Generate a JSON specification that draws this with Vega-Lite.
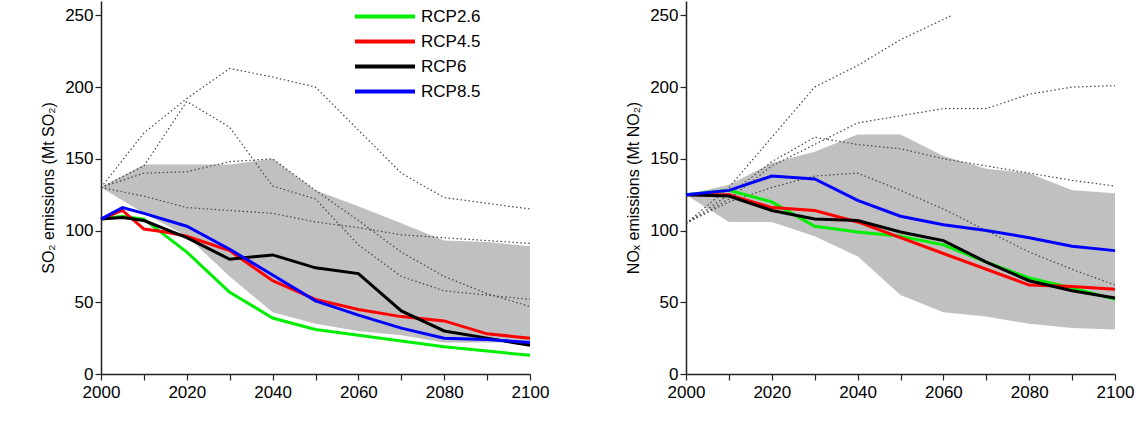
{
"$schema":"https://vega.github.io/schema/vega-lite/v6.json",
"padding":{"left":40,"top":1,"right":20,"bottom":0},
"background":"white",
"config":{"view":{"stroke":null},"font":"Liberation Sans",
"axis":{"grid":false,"labelFontSize":17,"titleFontSize":16,"titleFontWeight":"normal","domainColor":"#222","tickColor":"#222","labelColor":"#000","titleColor":"#000","tickSize":6,"domainWidth":1.5,"tickWidth":1.2,"labelFlush":false}},
"datasets":{
"lines":[
{"p":"L","s":"RCP2.6","y":2000,"v":108},{"p":"L","s":"RCP2.6","y":2005,"v":110},{"p":"L","s":"RCP2.6","y":2010,"v":108},{"p":"L","s":"RCP2.6","y":2020,"v":85},{"p":"L","s":"RCP2.6","y":2030,"v":57},{"p":"L","s":"RCP2.6","y":2040,"v":39},{"p":"L","s":"RCP2.6","y":2050,"v":31},{"p":"L","s":"RCP2.6","y":2060,"v":27},{"p":"L","s":"RCP2.6","y":2070,"v":23},{"p":"L","s":"RCP2.6","y":2080,"v":19},{"p":"L","s":"RCP2.6","y":2090,"v":16},{"p":"L","s":"RCP2.6","y":2100,"v":13},
{"p":"L","s":"RCP4.5","y":2000,"v":108},{"p":"L","s":"RCP4.5","y":2005,"v":114},{"p":"L","s":"RCP4.5","y":2010,"v":101},{"p":"L","s":"RCP4.5","y":2015,"v":99},{"p":"L","s":"RCP4.5","y":2020,"v":96},{"p":"L","s":"RCP4.5","y":2030,"v":86},{"p":"L","s":"RCP4.5","y":2040,"v":65},{"p":"L","s":"RCP4.5","y":2050,"v":52},{"p":"L","s":"RCP4.5","y":2060,"v":45},{"p":"L","s":"RCP4.5","y":2070,"v":40},{"p":"L","s":"RCP4.5","y":2080,"v":37},{"p":"L","s":"RCP4.5","y":2090,"v":28},{"p":"L","s":"RCP4.5","y":2100,"v":25},
{"p":"L","s":"RCP6","y":2000,"v":108},{"p":"L","s":"RCP6","y":2005,"v":109},{"p":"L","s":"RCP6","y":2010,"v":107},{"p":"L","s":"RCP6","y":2020,"v":95},{"p":"L","s":"RCP6","y":2030,"v":80},{"p":"L","s":"RCP6","y":2040,"v":83},{"p":"L","s":"RCP6","y":2050,"v":74},{"p":"L","s":"RCP6","y":2060,"v":70},{"p":"L","s":"RCP6","y":2070,"v":44},{"p":"L","s":"RCP6","y":2080,"v":30},{"p":"L","s":"RCP6","y":2090,"v":25},{"p":"L","s":"RCP6","y":2100,"v":20},
{"p":"L","s":"RCP8.5","y":2000,"v":108},{"p":"L","s":"RCP8.5","y":2005,"v":116},{"p":"L","s":"RCP8.5","y":2010,"v":112},{"p":"L","s":"RCP8.5","y":2020,"v":103},{"p":"L","s":"RCP8.5","y":2030,"v":87},{"p":"L","s":"RCP8.5","y":2040,"v":69},{"p":"L","s":"RCP8.5","y":2050,"v":51},{"p":"L","s":"RCP8.5","y":2060,"v":41},{"p":"L","s":"RCP8.5","y":2070,"v":32},{"p":"L","s":"RCP8.5","y":2080,"v":25},{"p":"L","s":"RCP8.5","y":2090,"v":24},{"p":"L","s":"RCP8.5","y":2100,"v":22},
{"p":"R","s":"RCP2.6","y":2000,"v":125},{"p":"R","s":"RCP2.6","y":2010,"v":128},{"p":"R","s":"RCP2.6","y":2020,"v":120},{"p":"R","s":"RCP2.6","y":2030,"v":103},{"p":"R","s":"RCP2.6","y":2040,"v":99},{"p":"R","s":"RCP2.6","y":2050,"v":96},{"p":"R","s":"RCP2.6","y":2060,"v":90},{"p":"R","s":"RCP2.6","y":2070,"v":78},{"p":"R","s":"RCP2.6","y":2080,"v":67},{"p":"R","s":"RCP2.6","y":2090,"v":60},{"p":"R","s":"RCP2.6","y":2100,"v":52},
{"p":"R","s":"RCP4.5","y":2000,"v":125},{"p":"R","s":"RCP4.5","y":2010,"v":125},{"p":"R","s":"RCP4.5","y":2020,"v":116},{"p":"R","s":"RCP4.5","y":2030,"v":114},{"p":"R","s":"RCP4.5","y":2040,"v":106},{"p":"R","s":"RCP4.5","y":2050,"v":95},{"p":"R","s":"RCP4.5","y":2060,"v":84},{"p":"R","s":"RCP4.5","y":2070,"v":73},{"p":"R","s":"RCP4.5","y":2080,"v":62},{"p":"R","s":"RCP4.5","y":2090,"v":61},{"p":"R","s":"RCP4.5","y":2100,"v":59},
{"p":"R","s":"RCP6","y":2000,"v":125},{"p":"R","s":"RCP6","y":2010,"v":124},{"p":"R","s":"RCP6","y":2020,"v":114},{"p":"R","s":"RCP6","y":2030,"v":108},{"p":"R","s":"RCP6","y":2040,"v":107},{"p":"R","s":"RCP6","y":2050,"v":99},{"p":"R","s":"RCP6","y":2060,"v":93},{"p":"R","s":"RCP6","y":2070,"v":78},{"p":"R","s":"RCP6","y":2080,"v":65},{"p":"R","s":"RCP6","y":2090,"v":58},{"p":"R","s":"RCP6","y":2100,"v":53},
{"p":"R","s":"RCP8.5","y":2000,"v":125},{"p":"R","s":"RCP8.5","y":2010,"v":128},{"p":"R","s":"RCP8.5","y":2020,"v":138},{"p":"R","s":"RCP8.5","y":2030,"v":136},{"p":"R","s":"RCP8.5","y":2040,"v":121},{"p":"R","s":"RCP8.5","y":2050,"v":110},{"p":"R","s":"RCP8.5","y":2060,"v":104},{"p":"R","s":"RCP8.5","y":2070,"v":100},{"p":"R","s":"RCP8.5","y":2080,"v":95},{"p":"R","s":"RCP8.5","y":2090,"v":89},{"p":"R","s":"RCP8.5","y":2100,"v":86}
],
"band":[
{"p":"L","y":2000,"lo":130,"hi":130},{"p":"L","y":2010,"lo":112,"hi":146},{"p":"L","y":2020,"lo":96,"hi":146},{"p":"L","y":2030,"lo":68,"hi":146},{"p":"L","y":2040,"lo":43,"hi":150},{"p":"L","y":2050,"lo":35,"hi":128},{"p":"L","y":2060,"lo":30,"hi":117},{"p":"L","y":2070,"lo":27,"hi":105},{"p":"L","y":2080,"lo":22,"hi":93},{"p":"L","y":2090,"lo":22,"hi":92},{"p":"L","y":2100,"lo":22,"hi":89},
{"p":"R","y":2000,"lo":125,"hi":125},{"p":"R","y":2010,"lo":106,"hi":132},{"p":"R","y":2020,"lo":106,"hi":147},{"p":"R","y":2030,"lo":96,"hi":155},{"p":"R","y":2040,"lo":82,"hi":167},{"p":"R","y":2050,"lo":55,"hi":167},{"p":"R","y":2060,"lo":43,"hi":152},{"p":"R","y":2070,"lo":40,"hi":143},{"p":"R","y":2080,"lo":35,"hi":140},{"p":"R","y":2090,"lo":32,"hi":128},{"p":"R","y":2100,"lo":31,"hi":126}
],
"sres":[
{"p":"L","s":"A","y":2000,"v":130},{"p":"L","s":"A","y":2010,"v":168},{"p":"L","s":"A","y":2020,"v":192},{"p":"L","s":"A","y":2030,"v":213},{"p":"L","s":"A","y":2040,"v":207},{"p":"L","s":"A","y":2050,"v":200},{"p":"L","s":"A","y":2060,"v":170},{"p":"L","s":"A","y":2070,"v":140},{"p":"L","s":"A","y":2080,"v":123},{"p":"L","s":"A","y":2090,"v":119},{"p":"L","s":"A","y":2100,"v":115},
{"p":"L","s":"B","y":2000,"v":130},{"p":"L","s":"B","y":2010,"v":145},{"p":"L","s":"B","y":2020,"v":190},{"p":"L","s":"B","y":2030,"v":172},{"p":"L","s":"B","y":2040,"v":131},{"p":"L","s":"B","y":2050,"v":122},{"p":"L","s":"B","y":2060,"v":90},{"p":"L","s":"B","y":2070,"v":68},{"p":"L","s":"B","y":2080,"v":58},{"p":"L","s":"B","y":2090,"v":55},{"p":"L","s":"B","y":2100,"v":52},
{"p":"L","s":"C","y":2000,"v":130},{"p":"L","s":"C","y":2010,"v":140},{"p":"L","s":"C","y":2020,"v":141},{"p":"L","s":"C","y":2030,"v":148},{"p":"L","s":"C","y":2040,"v":150},{"p":"L","s":"C","y":2050,"v":128},{"p":"L","s":"C","y":2060,"v":107},{"p":"L","s":"C","y":2070,"v":85},{"p":"L","s":"C","y":2080,"v":68},{"p":"L","s":"C","y":2090,"v":56},{"p":"L","s":"C","y":2100,"v":47},
{"p":"L","s":"D","y":2000,"v":130},{"p":"L","s":"D","y":2010,"v":124},{"p":"L","s":"D","y":2020,"v":116},{"p":"L","s":"D","y":2030,"v":114},{"p":"L","s":"D","y":2040,"v":112},{"p":"L","s":"D","y":2050,"v":106},{"p":"L","s":"D","y":2060,"v":102},{"p":"L","s":"D","y":2070,"v":97},{"p":"L","s":"D","y":2080,"v":95},{"p":"L","s":"D","y":2090,"v":93},{"p":"L","s":"D","y":2100,"v":91},
{"p":"R","s":"A","y":2000,"v":105},{"p":"R","s":"A","y":2010,"v":130},{"p":"R","s":"A","y":2020,"v":165},{"p":"R","s":"A","y":2030,"v":200},{"p":"R","s":"A","y":2040,"v":215},{"p":"R","s":"A","y":2050,"v":233},{"p":"R","s":"A","y":2062,"v":250},
{"p":"R","s":"B","y":2000,"v":105},{"p":"R","s":"B","y":2010,"v":125},{"p":"R","s":"B","y":2020,"v":148},{"p":"R","s":"B","y":2030,"v":165},{"p":"R","s":"B","y":2040,"v":160},{"p":"R","s":"B","y":2050,"v":157},{"p":"R","s":"B","y":2060,"v":150},{"p":"R","s":"B","y":2070,"v":145},{"p":"R","s":"B","y":2080,"v":140},{"p":"R","s":"B","y":2090,"v":135},{"p":"R","s":"B","y":2100,"v":131},
{"p":"R","s":"C","y":2000,"v":105},{"p":"R","s":"C","y":2010,"v":122},{"p":"R","s":"C","y":2020,"v":145},{"p":"R","s":"C","y":2030,"v":160},{"p":"R","s":"C","y":2040,"v":175},{"p":"R","s":"C","y":2050,"v":180},{"p":"R","s":"C","y":2060,"v":185},{"p":"R","s":"C","y":2070,"v":185},{"p":"R","s":"C","y":2080,"v":195},{"p":"R","s":"C","y":2090,"v":200},{"p":"R","s":"C","y":2100,"v":201},
{"p":"R","s":"D","y":2000,"v":105},{"p":"R","s":"D","y":2010,"v":120},{"p":"R","s":"D","y":2020,"v":130},{"p":"R","s":"D","y":2030,"v":138},{"p":"R","s":"D","y":2040,"v":140},{"p":"R","s":"D","y":2050,"v":128},{"p":"R","s":"D","y":2060,"v":115},{"p":"R","s":"D","y":2070,"v":100},{"p":"R","s":"D","y":2080,"v":85},{"p":"R","s":"D","y":2090,"v":73},{"p":"R","s":"D","y":2100,"v":62}
]},
"spacing":76,
"hconcat":[
{"width":429,"height":373,
"layer":[
{"data":{"name":"band"},"transform":[{"filter":"datum.p=='L'"}],"mark":{"type":"area","color":"#c0c0c0"},
"encoding":{"x":{"field":"y","type":"quantitative","scale":{"domain":[2000,2100]},"axis":{"title":null,"values":[2000,2010,2020,2030,2040,2050,2060,2070,2080,2090,2100],"labelExpr":"datum.value%20==0?datum.value:''","format":"d","labelPadding":4}},
"y":{"field":"lo","type":"quantitative","scale":{"domain":[0,250]},"axis":{"title":"SO₂ emissions (Mt SO₂)","values":[0,25,50,75,100,125,150,175,200,225,250],"labelExpr":"datum.value%50==0?datum.value:''","titlePadding":8}},"y2":{"field":"hi"}}},
{"data":{"name":"sres"},"transform":[{"filter":"datum.p=='L'"}],"mark":{"type":"line","color":"#444","strokeWidth":1.2,"strokeDash":[1.5,2.5]},
"encoding":{"x":{"field":"y","type":"quantitative"},"y":{"field":"v","type":"quantitative"},"detail":{"field":"s"}}},
{"data":{"name":"lines"},"transform":[{"filter":"datum.p=='L'"}],"mark":{"type":"line","strokeWidth":3},
"encoding":{"x":{"field":"y","type":"quantitative"},"y":{"field":"v","type":"quantitative"},
"color":{"field":"s","type":"nominal","scale":{"domain":["RCP2.6","RCP4.5","RCP6","RCP8.5"],"range":["#00ee00","#ff0000","#000000","#0000ff"]},
"legend":{"title":null,"orient":"none","legendX":252,"legendY":3,"symbolType":"stroke","symbolStrokeWidth":4,"symbolSize":3600,"labelFontSize":17,"rowPadding":0,"clipHeight":25,"labelOffset":4}}}}
]},
{"width":429,"height":373,
"layer":[
{"data":{"name":"band"},"transform":[{"filter":"datum.p=='R'"}],"mark":{"type":"area","color":"#c0c0c0"},
"encoding":{"x":{"field":"y","type":"quantitative","scale":{"domain":[2000,2100]},"axis":{"title":null,"values":[2000,2010,2020,2030,2040,2050,2060,2070,2080,2090,2100],"labelExpr":"datum.value%20==0?datum.value:''","format":"d","labelPadding":4}},
"y":{"field":"lo","type":"quantitative","scale":{"domain":[0,250]},"axis":{"title":"NOₓ emissions (Mt NO₂)","values":[0,25,50,75,100,125,150,175,200,225,250],"labelExpr":"datum.value%50==0?datum.value:''","titlePadding":8}},"y2":{"field":"hi"}}},
{"data":{"name":"sres"},"transform":[{"filter":"datum.p=='R'"}],"mark":{"type":"line","color":"#444","strokeWidth":1.2,"strokeDash":[1.5,2.5]},
"encoding":{"x":{"field":"y","type":"quantitative"},"y":{"field":"v","type":"quantitative"},"detail":{"field":"s"}}},
{"data":{"name":"lines"},"transform":[{"filter":"datum.p=='R'"}],"mark":{"type":"line","strokeWidth":3},
"encoding":{"x":{"field":"y","type":"quantitative"},"y":{"field":"v","type":"quantitative"},
"color":{"field":"s","type":"nominal","legend":null}}}
]}
]
}
